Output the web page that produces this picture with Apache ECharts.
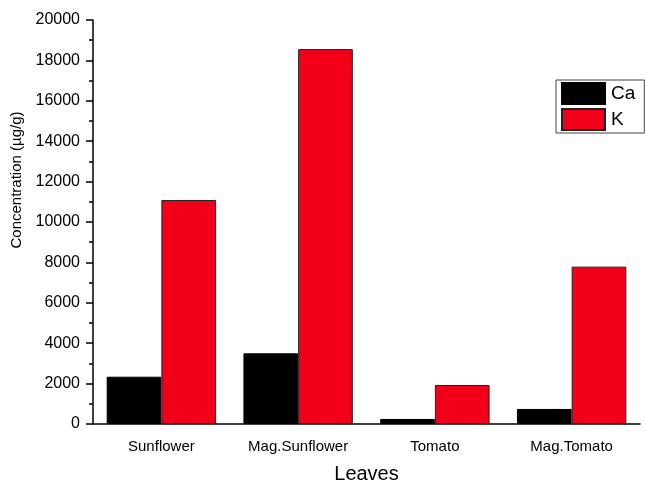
<!DOCTYPE html>
<html>
<head>
<meta charset="utf-8">
<script src="https://cdn.jsdelivr.net/npm/echarts@6/dist/echarts.min.js"></script>
<style>
    html, body { margin: 0; padding: 0; background: #fff; }
    #main { width: 645px; height: 485px; }
</style>
</head>
<body>
<div id="main"></div>
<script>
    var leaves = ['Sunflower', 'Mag.Sunflower', 'Tomato', 'Mag.Tomato'];
    var caValues = [2340, 3500, 250, 745];
    var kValues = [11090, 18560, 1930, 7790];

    var myChart = echarts.init(document.getElementById('main'));
    var fontFamily = '"Liberation Sans", Arial, sans-serif';

    var option = {
        animation: false,
        textStyle: { fontFamily: fontFamily, color: '#000' },
        legend: {
            data: ['Ca', 'K'],
            orient: 'vertical',
            left: 556,
            top: 80,
            padding: [2, 9, 2, 5],
            itemGap: 3,
            itemWidth: 43,
            itemHeight: 21,
            icon: 'rect',
            borderColor: '#444',
            borderWidth: 1,
            textStyle: { fontSize: 19, color: '#000', fontFamily: fontFamily, padding: [0, 0, 0, 1] }
        },
        grid: {
            left: 93,
            right: 5,
            top: 20,
            bottom: 61,
            containLabel: false,
            outerBoundsMode: 'none'
        },
        xAxis: [
            {
                type: 'category',
                data: leaves,
                name: 'Leaves',
                nameLocation: 'middle',
                nameGap: 40,
                nameTextStyle: { fontSize: 20, color: '#000', fontFamily: fontFamily },
                axisLine: { lineStyle: { color: '#000', width: 1.5 } },
                axisTick: { alignWithLabel: true, length: 8, lineStyle: { color: '#000', width: 1.5 } },
                axisLabel: { fontSize: 15, color: '#000', margin: 15, fontFamily: fontFamily }
            },
            {
                // only draws the short ticks between the categories
                type: 'category',
                data: leaves,
                position: 'bottom',
                axisLine: { show: false },
                axisTick: { length: 4, lineStyle: { color: '#000', width: 1.5 } },
                axisLabel: { show: false }
            }
        ],
        yAxis: [
            {
                type: 'value',
                min: 0,
                max: 20000,
                interval: 2000,
                name: 'Concentration (µg/g)',
                nameLocation: 'middle',
                nameGap: 68,
                nameTextStyle: { fontSize: 15, color: '#000', fontFamily: fontFamily, padding: [0, 0, 0, 84] },
                axisLine: { show: true, lineStyle: { color: '#000', width: 1.5 } },
                axisTick: { show: true, length: 7, lineStyle: { color: '#000', width: 1.5 } },
                minorTick: { show: true, splitNumber: 2, length: 4, lineStyle: { color: '#000', width: 1.5 } },
                splitLine: { show: false },
                axisLabel: {
                    fontSize: 16, color: '#000', margin: 13, fontFamily: fontFamily,
                    formatter: function (v) { return String(v); }
                }
            }
        ],
        series: [
            {
                name: 'Ca',
                type: 'bar',
                data: caValues,
                barGap: 0,
                barCategoryGap: '20%',
                itemStyle: { color: '#000000', borderColor: '#000', borderWidth: 1 }
            },
            {
                name: 'K',
                type: 'bar',
                data: kValues,
                barGap: 0,
                barCategoryGap: '20%',
                itemStyle: { color: '#f2001a', borderColor: '#222', borderWidth: 1 }
            }
        ]
    };

    myChart.setOption(option);
</script>
</body>
</html>
